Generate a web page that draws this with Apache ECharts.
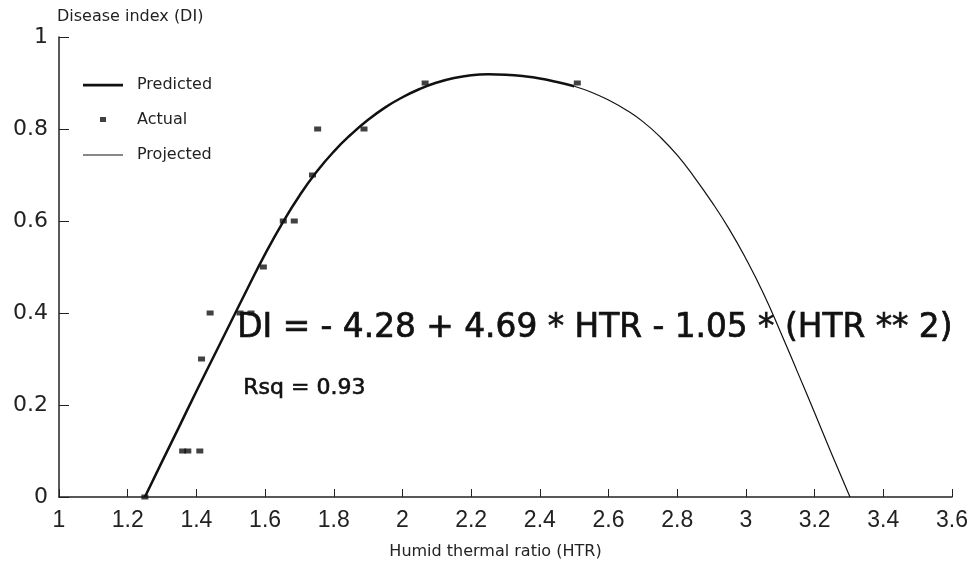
<!DOCTYPE html>
<html>
<head>
<meta charset="utf-8">
<script src="https://cdn.jsdelivr.net/npm/echarts@6/dist/echarts.min.js"></script>
<style>
html,body{margin:0;padding:0;background:#fff;}
#chart{width:976px;height:568px;}
</style>
</head>
<body>
<div id="chart"></div>
<script>
// Actual observations
const actualX = [1.25, 1.36, 1.375, 1.41, 1.415, 1.44, 1.527, 1.559, 1.595, 1.653, 1.685, 1.738, 1.753, 1.888, 2.066, 2.509];
const actualY = [0, 0.1, 0.1, 0.1, 0.3, 0.4, 0.4, 0.4, 0.5, 0.6, 0.6, 0.7, 0.8, 0.8, 0.9, 0.9];
// Predicted curve (within data range)
const predX = [1.25, 1.30, 1.35, 1.40, 1.45, 1.50, 1.55, 1.60, 1.65, 1.70, 1.75, 1.80, 1.85, 1.90, 1.95, 2.00, 2.05, 2.10, 2.15, 2.20, 2.25, 2.30, 2.35, 2.40, 2.45, 2.50];
const predY = [0, 0.077, 0.153, 0.230, 0.305, 0.380, 0.455, 0.528, 0.595, 0.655, 0.707, 0.751, 0.788, 0.820, 0.847, 0.869, 0.887, 0.901, 0.911, 0.917, 0.919, 0.918, 0.915, 0.910, 0.902, 0.893];
// Projected curve (beyond data range)
const projX = [2.50, 2.55, 2.60, 2.65, 2.70, 2.75, 2.80, 2.85, 2.90, 2.95, 3.00, 3.05, 3.10, 3.15, 3.20, 3.25, 3.303];
const projY = [0.893, 0.880, 0.863, 0.842, 0.816, 0.783, 0.743, 0.695, 0.642, 0.584, 0.518, 0.444, 0.360, 0.272, 0.183, 0.093, 0];
const seriesNames = ['Predicted', 'Actual', 'Projected'];
const xAxisName = 'Humid thermal ratio (HTR)';
const yAxisName = 'Disease index (DI)';
const equationText = 'DI = - 4.28 + 4.69 * HTR - 1.05 * (HTR ** 2)';
const rsqText = 'Rsq = 0.93';

const zip = (a, b) => a.map((v, i) => [v, b[i]]);
const ink = '#111';
const txt = '#222';

const chart = echarts.init(document.getElementById('chart'), null, {renderer: 'canvas'});
chart.setOption({
  backgroundColor: '#fff',
  animation: false,
  grid: {left: 59, right: 24, top: 37, bottom: 71},
  legend: {
    orient: 'vertical',
    left: 78,
    top: 72,
    itemWidth: 40,
    itemHeight: 14,
    itemGap: 19,
    selectedMode: false,
    textStyle: {color: txt, fontSize: 16, fontFamily: 'DejaVu Sans', lineHeight: 16, padding: [0, 0, 0, 9]},
    data: [
      {name: seriesNames[0], icon: 'path://M0,0M40,14M0,5.8h40v2.6h-40z', itemStyle: {color: ink}},
      {name: seriesNames[1], icon: 'path://M0,0M40,14M17,4h6v5h-6z', itemStyle: {color: ink}},
      {name: seriesNames[2], icon: 'path://M0,0M40,14M0,6.5h40v1h-40z', itemStyle: {color: ink}}
    ]
  },
  xAxis: {
    type: 'value',
    min: 1, max: 3.6, interval: 0.2,
    name: xAxisName,
    nameLocation: 'middle',
    nameGap: 47,
    nameTextStyle: {color: txt, fontSize: 16, fontFamily: 'DejaVu Sans', padding: [0, 20, 0, 0]},
    axisLine: {lineStyle: {color: '#222', width: 1.5}},
    axisTick: {inside: true, length: 8, lineStyle: {color: '#222', width: 1}},
    axisLabel: {color: txt, fontSize: 23, fontFamily: 'Liberation Sans Narrow, Liberation Sans', margin: 12},
    splitLine: {show: false}
  },
  yAxis: {
    type: 'value',
    min: 0, max: 1, interval: 0.2,
    name: yAxisName,
    nameLocation: 'end',
    nameGap: 12,
    nameTextStyle: {color: txt, fontSize: 16, fontFamily: 'DejaVu Sans', align: 'left', padding: [0, 0, 0, -2]},
    axisLine: {show: true, lineStyle: {color: '#222', width: 1.5}},
    axisTick: {show: true, inside: true, length: 10, lineStyle: {color: '#222', width: 1}},
    axisLabel: {color: txt, fontSize: 22, fontFamily: 'DejaVu Sans', margin: 11},
    splitLine: {show: false}
  },
  graphic: [
    {type: 'text', left: 237, top: 312, z: 1, style: {text: equationText, fill: ink, stroke: ink, lineWidth: 0.7, font: '32.8px "DejaVu Sans"'}},
    {type: 'text', left: 243, top: 377, z: 1, style: {text: rsqText, fill: ink, stroke: ink, lineWidth: 0.6, font: '22px "DejaVu Sans"'}}
  ],
  series: [
    {
      name: seriesNames[0], type: 'line', data: zip(predX, predY),
      smooth: 0.5, symbol: 'none', z: 3,
      lineStyle: {color: ink, width: 2.5}, itemStyle: {color: ink}
    },
    {
      name: seriesNames[1], type: 'scatter', data: zip(actualX, actualY),
      symbol: 'rect', symbolSize: [7, 5], z: 5,
      itemStyle: {color: ink}
    },
    {
      name: seriesNames[2], type: 'line', data: zip(projX, projY),
      smooth: 0.5, symbol: 'none', z: 3,
      lineStyle: {color: ink, width: 1.2}, itemStyle: {color: ink}
    }
  ]
});
</script>
</body>
</html>
